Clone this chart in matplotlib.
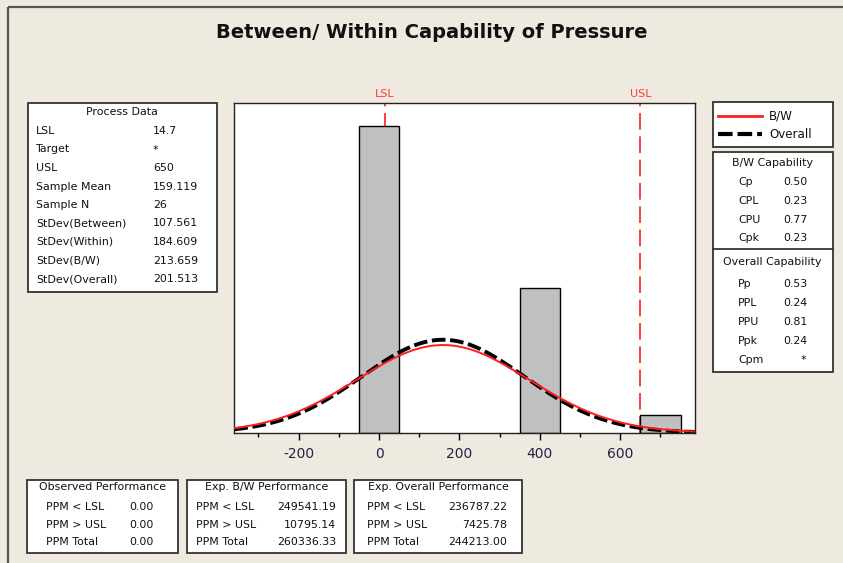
import numpy as np
import matplotlib
matplotlib.use("Agg")
import matplotlib.pyplot as plt
from matplotlib.patches import Rectangle

plt.rcParams["axes.unicode_minus"] = False

# Spec limits and process statistics
LSL = 14.7
USL = 650
MEAN = 159.119
N = 26
SD_BW = 213.659
SD_OVERALL = 201.513

# Histogram of Pressure
bin_centers = [0, 400, 700]
bin_counts = [17, 8, 1]
bin_width = 100

major_ticks = [-200, 0, 200, 400, 600]
minor_ticks = [-300, -100, 100, 300, 500, 700]

process_labels = ["LSL", "Target", "USL", "Sample Mean", "Sample N",
                  "StDev(Between)", "StDev(Within)", "StDev(B/W)", "StDev(Overall)"]
process_values = ["14.7", "*", "650", "159.119", "26",
                  "107.561", "184.609", "213.659", "201.513"]

bw_cap_labels = ["Cp", "CPL", "CPU", "Cpk"]
bw_cap_values = ["0.50", "0.23", "0.77", "0.23"]
ov_cap_labels = ["Pp", "PPL", "PPU", "Ppk", "Cpm"]
ov_cap_values = ["0.53", "0.24", "0.81", "0.24", "*"]

ppm_labels = ["PPM < LSL", "PPM > USL", "PPM Total"]
observed_ppm = ["0.00", "0.00", "0.00"]
exp_bw_ppm = ["249541.19", "10795.14", "260336.33"]
exp_overall_ppm = ["236787.22", "7425.78", "244213.00"]

BG = "#EEEAE0"
RED = "#FF1E1E"
W, H = 843, 563

fig = plt.figure(figsize=(W / 100, H / 100), dpi=100)
fig.patch.set_facecolor(BG)

# overlay in pixel coordinates for the text panels
ov = fig.add_axes([0, 0, 1, 1])
ov.set_xlim(0, W)
ov.set_ylim(H, 0)
ov.axis("off")
ov.patch.set_visible(False)

ov.add_patch(Rectangle((8, 7), W, H, fill=False, edgecolor="#555555", lw=1.6))
ov.text(432, 33, "Between/ Within Capability of Pressure", ha="center", va="center",
        fontsize=14, fontweight="bold", color="#111111")

FS = 7.9
TXT = "#111111"


def box(x0, y0, x1, y1):
    ov.add_patch(Rectangle((x0, y0), x1 - x0, y1 - y0, facecolor="white",
                           edgecolor="#333333", lw=1.3))


# Process data
box(28, 103, 217, 292)
ov.text(122, 112, "Process Data", ha="center", va="center", fontsize=FS, color=TXT)
for i, (lab, val) in enumerate(zip(process_labels, process_values)):
    y = 131 + i * 18.5
    ov.text(36, y, lab, ha="left", va="center", fontsize=FS, color=TXT)
    ov.text(153, y, val, ha="left", va="center", fontsize=FS, color=TXT)

# Legend
box(713, 102, 833, 147)
ov.plot([718, 762], [116, 116], color=RED, lw=2)
ov.plot([718, 762], [134, 134], color="black", lw=3, dashes=(3.5, 1.2))
ov.text(769, 116, "B/W", ha="left", va="center", fontsize=8.6, color=TXT)
ov.text(769, 134, "Overall", ha="left", va="center", fontsize=8.6, color=TXT)

# Capability indices
box(713, 152, 833, 372)
ov.plot([713, 833], [248.5, 248.5], color="#333333", lw=1.3)
ov.text(772, 163, "B/W Capability", ha="center", va="center", fontsize=FS, color=TXT)
for i, (lab, val) in enumerate(zip(bw_cap_labels, bw_cap_values)):
    y = 182 + i * 18.8
    ov.text(738, y, lab, ha="left", va="center", fontsize=FS, color=TXT)
    ov.text(783, y, val, ha="left", va="center", fontsize=FS, color=TXT)
ov.text(772, 262, "Overall Capability", ha="center", va="center", fontsize=FS, color=TXT)
for i, (lab, val) in enumerate(zip(ov_cap_labels, ov_cap_values)):
    y = 284 + i * 19
    ov.text(738, y, lab, ha="left", va="center", fontsize=FS, color=TXT)
    if val == "*":
        ov.text(803, y, val, ha="center", va="center", fontsize=FS, color=TXT)
    else:
        ov.text(783, y, val, ha="left", va="center", fontsize=FS, color=TXT)

# Performance tables
perf = [
    ("Observed Performance", observed_ppm, 27, 178, 46, 154),
    ("Exp. B/W Performance", exp_bw_ppm, 187, 346, 196, 336),
    ("Exp. Overall Performance", exp_overall_ppm, 354, 522, 367, 507),
]
for title, vals, x0, x1, lx, rx in perf:
    box(x0, 480, x1, 553)
    ov.text((x0 + x1) / 2, 487, title, ha="center", va="center", fontsize=FS, color=TXT)
    for i, (lab, val) in enumerate(zip(ppm_labels, vals)):
        y = 507 + i * 17.7
        ov.text(lx, y, lab, ha="left", va="center", fontsize=FS, color=TXT)
        ov.text(rx, y, val, ha="right", va="center", fontsize=FS, color=TXT)

# Histogram with fitted normal curves
ax = fig.add_axes([234.3 / W, 1 - 432.7 / H, (695 - 234.3) / W, (432.7 - 102.7) / H])
ax.set_zorder(2)
ax.set_facecolor("white")
xmin, xmax = -360, 786
ax.set_xlim(xmin, xmax)
ax.set_ylim(0, max(bin_counts) * 1.075)

ax.axvline(LSL, color=RED, lw=1.2, dashes=(10, 4), zorder=1)
ax.axvline(USL, color=RED, lw=1.2, dashes=(10, 4), zorder=1)
ax.bar(bin_centers, bin_counts, width=bin_width, color="#C0C0C0",
       edgecolor="black", lw=1, zorder=2)

xs = np.linspace(xmin, xmax, 400)
scale = N * bin_width


def normal(x, mu, sd):
    return np.exp(-0.5 * ((x - mu) / sd) ** 2) / (sd * np.sqrt(2 * np.pi))


ax.plot(xs, normal(xs, MEAN, SD_OVERALL) * scale, color="black", lw=2.8,
        dashes=(3.5, 1.2), zorder=3)
ax.plot(xs, normal(xs, MEAN, SD_BW) * scale, color=RED, lw=1.4, zorder=4)

ax.set_xticks(major_ticks)
ax.set_xticks(minor_ticks, minor=True)
ax.set_yticks([])
ax.tick_params(axis="x", which="major", length=5, width=1, labelsize=10,
               labelcolor="#2a2045", pad=5)
ax.tick_params(axis="x", which="minor", length=3, width=1)
for s in ax.spines.values():
    s.set_edgecolor("#222222")
    s.set_linewidth(1)

ylim_top = ax.get_ylim()[1]
ax.text(LSL, ylim_top * 1.012, "LSL", ha="center", va="bottom",
        fontsize=8, color="#FF3A3A", clip_on=False)
ax.text(USL, ylim_top * 1.012, "USL", ha="center", va="bottom",
        fontsize=8, color="#FF3A3A", clip_on=False)

fig.savefig("out.png", dpi=100, facecolor=fig.get_facecolor())
